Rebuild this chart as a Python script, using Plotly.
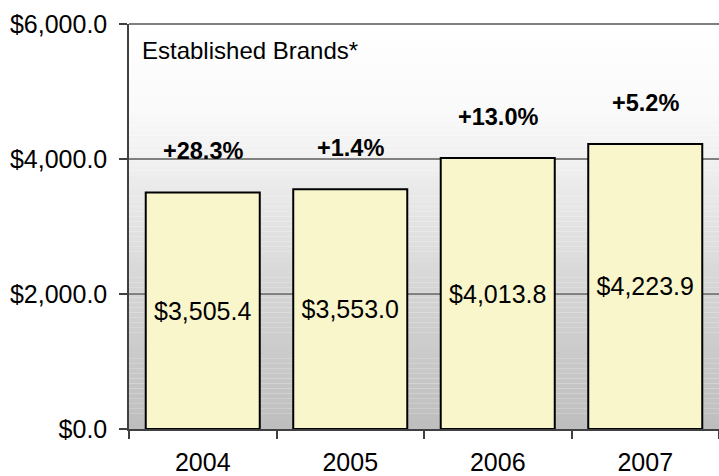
import plotly.graph_objects as go

# Established brands revenue ($ millions) by year
years = ["2004", "2005", "2006", "2007"]
revenue = [3505.4, 3553.0, 4013.8, 4223.9]
growth = ["+28.3%", "+1.4%", "+13.0%", "+5.2%"]
y_ticks = [0, 2000, 4000, 6000]
y_tick_text = ["$0.0", "$2,000.0", "$4,000.0", "$6,000.0"]

FONT = "Liberation Sans, Arial, sans-serif"

fig = go.Figure()
fig.add_trace(go.Bar(
    x=years,
    y=revenue,
    width=0.773,
    marker=dict(color="#FAF6CC", line=dict(color="#000000", width=2)),
    texttemplate="$%{y:,.1f}",
    textposition="inside",
    insidetextanchor="middle",
    textfont=dict(family=FONT, size=25, color="#000000"),
    hoverinfo="skip",
))

# Vertical white-to-grey gradient behind the plot area
shapes = []
stops = [(0.0, 190), (0.33, 212), (0.66, 240), (0.8, 250), (1.0, 255)]
n = 80
for i in range(n):
    t = (i + 0.5) / n
    for (a, ca), (b, cb) in zip(stops[:-1], stops[1:]):
        if a <= t <= b:
            c = round(ca + (cb - ca) * (t - a) / (b - a))
            break
    shapes.append(dict(
        type="rect", xref="x domain", yref="y domain",
        x0=0, x1=1, y0=i / n, y1=(i + 1) / n,
        fillcolor=f"rgb({c},{c},{c})", line=dict(width=0), layer="below",
    ))
# Top border of the plot area
shapes.append(dict(
    type="line", xref="x domain", yref="y domain",
    x0=0, x1=1, y0=1, y1=1, line=dict(color="#808080", width=2),
))

# Year-over-year growth above each bar (category index as x position)
annotations = [
    dict(x=i, y=v, text=f"<b>{g}</b>", showarrow=False, yshift=41,
         font=dict(family=FONT, size=23.5, color="#000000"))
    for i, (v, g) in enumerate(zip(revenue, growth))
]
annotations.append(dict(
    xref="paper", yref="paper", x=0.018, y=0.935, xanchor="left", yanchor="middle",
    text="Established Brands*", showarrow=False,
    font=dict(family=FONT, size=24, color="#000000"),
))

fig.update_layout(
    width=719, height=476,
    margin=dict(l=129, r=0, t=24, b=47),
    paper_bgcolor="#FFFFFF",
    plot_bgcolor="rgba(0,0,0,0)",
    showlegend=False,
    bargap=0.227,
    shapes=shapes,
    annotations=annotations,
    font=dict(family=FONT, size=25, color="#000000"),
)
fig.update_xaxes(
    type="category",
    range=[-0.5, 3.5],
    tickson="boundaries",
    ticks="outside", ticklen=8, tickwidth=1.5, tickcolor="#404040",
    showline=True, linecolor="#404040", linewidth=1.5,
    showgrid=False,
    automargin=False,
    ticklabelstandoff=10,
    tickfont=dict(family=FONT, size=25, color="#000000"),
)
fig.update_yaxes(
    range=[0, 6000],
    tickvals=y_ticks, ticktext=y_tick_text,
    ticks="outside", ticklen=8, tickwidth=1.5, tickcolor="#404040",
    showline=True, linecolor="#404040", linewidth=1.5,
    showgrid=True, gridcolor="#808080", gridwidth=1.5,
    zeroline=False,
    automargin=False,
    ticklabelstandoff=7,
    tickfont=dict(family=FONT, size=25, color="#000000"),
)

fig.write_html("out.html")
